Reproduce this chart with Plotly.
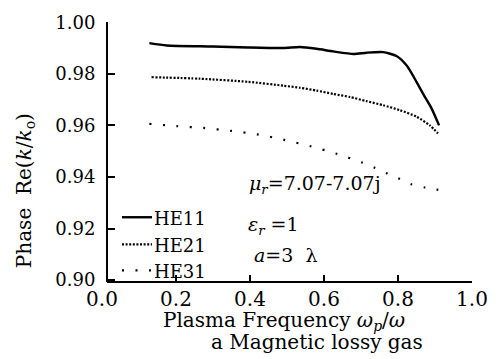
import plotly.graph_objects as go

# ---- data ----
he11_x = [0.128, 0.175, 0.30, 0.395, 0.49, 0.535, 0.58, 0.625, 0.68, 0.715, 0.76, 0.796, 0.824, 0.85, 0.868, 0.89, 0.911]
he11_y = [0.9919, 0.9910, 0.9906, 0.9902, 0.9900, 0.9904, 0.9897, 0.9887, 0.9877, 0.9882, 0.9884, 0.9869, 0.9831, 0.9769, 0.9722, 0.9668, 0.9600]

he21_x = [0.134, 0.265, 0.395, 0.49, 0.535, 0.58, 0.625, 0.67, 0.715, 0.76, 0.805, 0.85, 0.886, 0.908]
he21_y = [0.9787, 0.9781, 0.9769, 0.9754, 0.9746, 0.9735, 0.9722, 0.9710, 0.9694, 0.9678, 0.9659, 0.9634, 0.9600, 0.9569]

he31_x = [0.128, 0.202, 0.274, 0.348, 0.42, 0.492, 0.564, 0.634, 0.703, 0.738, 0.771, 0.805, 0.837, 0.873, 0.909]
he31_y = [0.9606, 0.9597, 0.9590, 0.9579, 0.9565, 0.9544, 0.9519, 0.9490, 0.9456, 0.9435, 0.9413, 0.9392, 0.9371, 0.9359, 0.9350]

series_names = ["HE11", "HE21", "HE31"]
x_ticks = [0.0, 0.2, 0.4, 0.6, 0.8, 1.0]
x_ticklabels = ["0.0", "0.2", "0.4", "0.6", "0.8", "1.0"]
y_ticks = [0.90, 0.92, 0.94, 0.96, 0.98, 1.00]
y_ticklabels = ["0.90", "0.92", "0.94", "0.96", "0.98", "1.00"]

FONT = "DejaVu Serif"
W, H = 504, 359
L, R, T, B = 102, 32, 13, 77
pw, ph = W - L - R, H - T - B


def px_x(p):
    return (p - L) / pw


def px_y(p):
    return (H - B - p) / ph


styles = [dict(color="black", width=2.4),
          dict(color="black", width=2.2, dash="2px,1.6px"),
          dict(color="black", width=2.2, dash="2px,11.5px")]

fig = go.Figure()
for xs, ys, nm, st in zip([he11_x, he21_x, he31_x], [he11_y, he21_y, he31_y], series_names, styles):
    fig.add_trace(go.Scatter(x=xs, y=ys, mode="lines", name=nm, showlegend=False,
                             line=dict(shape="spline", smoothing=0.6, **st)))

fig.update_layout(
    width=W, height=H,
    margin=dict(l=L, r=R, t=T, b=B, pad=0),
    paper_bgcolor="white", plot_bgcolor="white",
    font=dict(family=FONT, color="black"),
    showlegend=False,
    xaxis=dict(range=[0, 1.0], tickvals=x_ticks, ticktext=x_ticklabels,
               ticks="inside", ticklen=7, tickwidth=1.5, tickcolor="black",
               showline=False, showgrid=False, zeroline=False,
               tickfont=dict(family=FONT, size=20, color="black"),
               ticklabelstandoff=3),
    yaxis=dict(range=[0.89925, 1.0001], tickvals=y_ticks, ticktext=y_ticklabels,
               anchor="free", position=px_x(107),
               ticks="inside", ticklen=7, tickwidth=1.5, tickcolor="black",
               showline=True, linecolor="black", linewidth=2,
               showgrid=False, zeroline=False,
               tickfont=dict(family=FONT, size=18, color="black"),
               ticklabelstandoff=7),
)

# x axis line starting at the y axis
fig.add_shape(type="line", xref="paper", yref="paper", x0=px_x(107), x1=1.0, y0=0, y1=0,
              line=dict(color="black", width=2))

# legend (drawn inside the plot like the reference)
leg_rows = [215, 243, 270]
for nm, st, yy in zip(series_names, styles, leg_rows):
    fig.add_shape(type="line", xref="paper", yref="paper",
                  x0=px_x(122), x1=px_x(152), y0=px_y(yy), y1=px_y(yy), line=st)
    fig.add_annotation(text=nm, xref="paper", yref="paper",
                       x=px_x(152), y=px_y(yy + 1), xanchor="left", yanchor="middle",
                       showarrow=False, font=dict(family=FONT, size=18, color="black"))

ann_font = dict(family=FONT, size=19, color="black")
fig.add_annotation(text="<i>μ<sub>r</sub></i>=7.07-7.07j", xref="paper", yref="paper",
                   x=px_x(247), y=px_y(181), xanchor="left", yanchor="middle",
                   showarrow=False, font=ann_font)
fig.add_annotation(text="<i>ε<sub>r</sub></i> =1", xref="paper", yref="paper",
                   x=px_x(246), y=px_y(224), xanchor="left", yanchor="middle",
                   showarrow=False, font=ann_font)
fig.add_annotation(text="<i>a</i>=3  λ", xref="paper", yref="paper",
                   x=px_x(252), y=px_y(254), xanchor="left", yanchor="middle",
                   showarrow=False, font=ann_font)

# axis titles
fig.add_annotation(text="Plasma Frequency <i>ω<sub>p</sub></i>/<i>ω</i>", xref="paper", yref="paper",
                   x=px_x(161), y=px_y(322), xanchor="left", yanchor="middle",
                   showarrow=False, font=dict(family=FONT, size=20, color="black"))
fig.add_annotation(text="a Magnetic lossy gas", xref="paper", yref="paper",
                   x=px_x(209), y=px_y(344), xanchor="left", yanchor="middle",
                   showarrow=False, font=dict(family=FONT, size=20, color="black"))
fig.add_annotation(text="Phase\u00a0\u00a0Re(<i>k</i>/<i>k</i><sub>o</sub>)", xref="paper", yref="paper",
                   x=px_x(25), y=px_y(188), xanchor="center", yanchor="middle", textangle=-90,
                   showarrow=False, font=dict(family=FONT, size=20, color="black"))

fig.write_html("out.html")
